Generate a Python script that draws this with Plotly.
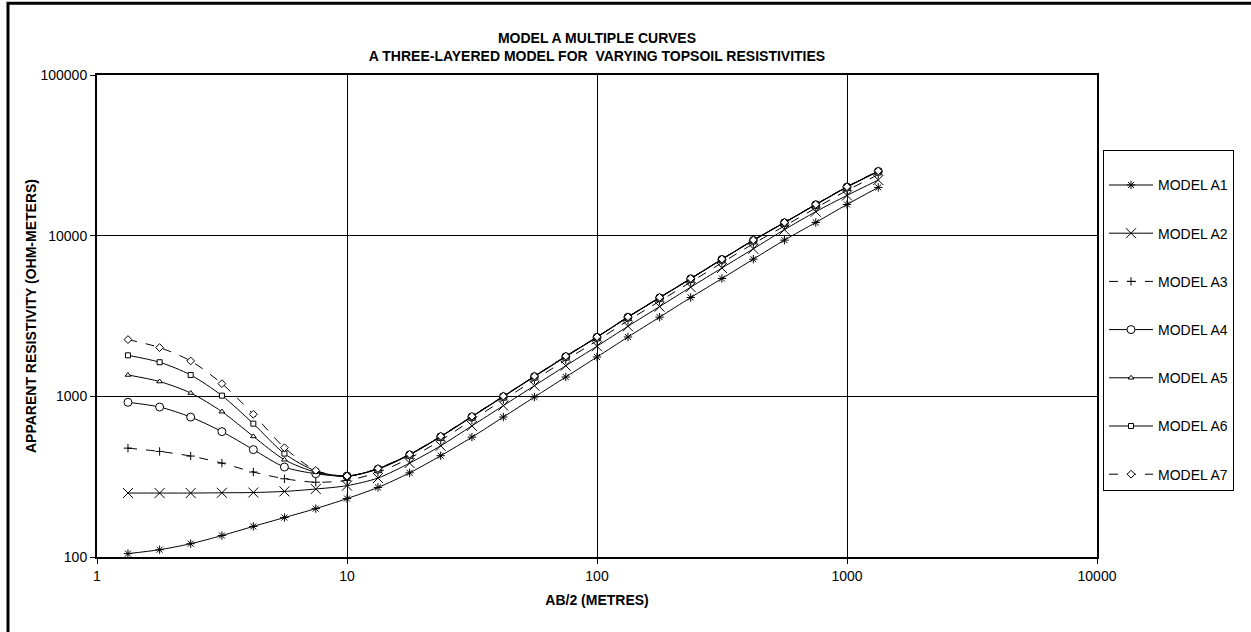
import plotly.graph_objects as go

ab2 = [1.33, 1.78, 2.37, 3.16, 4.22, 5.62, 7.5, 10, 13.3, 17.8, 23.7, 31.6, 42.2,
       56.2, 75, 100, 133, 178, 237, 316, 422, 562, 750, 1000, 1334]

model_a1 = [105, 111, 121, 136, 155, 176, 200, 231, 271, 334, 427, 557, 743, 990,
            1319, 1757, 2340, 3110, 4120, 5410, 7140, 9380, 12080, 15640, 19970]
model_a2 = [250, 250, 250, 251, 252, 256, 265, 278, 310, 384, 492, 655, 875, 1165,
            1550, 2050, 2730, 3620, 4780, 6290, 8280, 10900, 14100, 17800, 22200]
model_a3 = [476, 454, 425, 384, 338, 307, 292, 300, 336, 412, 532, 712, 950, 1265,
            1685, 2220, 2960, 3910, 5140, 6780, 8910, 11480, 14860, 19130, 23960]
model_a4 = [918, 858, 743, 603, 466, 363, 330, 319, 352, 432, 560, 745, 995, 1325,
            1765, 2330, 3105, 4100, 5385, 7110, 9340, 12030, 15570, 20050, 25100]
model_a5 = [1358, 1236, 1049, 803, 563, 403, 337, 318, 354, 434, 562, 748, 998, 1330,
            1770, 2335, 3112, 4110, 5400, 7125, 9360, 12055, 15610, 20100, 25160]
model_a6 = [1800, 1630, 1358, 1010, 676, 440, 343, 318, 355, 435, 563, 750, 1000, 1333,
            1775, 2340, 3120, 4120, 5410, 7140, 9380, 12080, 15640, 20140, 25220]
model_a7 = [2255, 2012, 1660, 1199, 773, 479, 346, 319, 356, 436, 565, 752, 1003, 1336,
            1780, 2345, 3125, 4130, 5420, 7150, 9400, 12100, 15670, 20180, 25300]

names = ["MODEL A1", "MODEL A2", "MODEL A3", "MODEL A4", "MODEL A5", "MODEL A6", "MODEL A7"]
series = [model_a1, model_a2, model_a3, model_a4, model_a5, model_a6, model_a7]

x_ticks = [1, 10, 100, 1000, 10000]
x_tick_labels = ["1", "10", "100", "1000", "10000"]
y_ticks = [100, 1000, 10000, 100000]
y_tick_labels = ["100", "1000", "10000", "100000"]

styles = [
    dict(symbol="asterisk-open", size=7, color="black", dash="solid"),
    dict(symbol="x-thin-open", size=10, color="black", dash="solid"),
    dict(symbol="cross-thin-open", size=6, color="black", dash="dash"),
    dict(symbol="circle", size=8, color="white", dash="solid"),
    dict(symbol="triangle-up", size=5, color="white", dash="solid"),
    dict(symbol="square", size=5, color="white", dash="solid"),
    dict(symbol="diamond", size=6, color="white", dash="dash"),
]

fig = go.Figure()
for i, (nm, ys, st) in enumerate(zip(names, series, styles)):
    fig.add_trace(go.Scatter(
        x=ab2, y=ys, name=nm, mode="lines+markers",
        legendgroup=nm,
        line=dict(color="black", width=1, dash=st["dash"], shape="spline", smoothing=0.8),
        marker=dict(symbol=st["symbol"], size=st["size"], color=st["color"],
                    line=dict(color="black", width=1)),
    ))

FONT = "Liberation Sans, Arial, sans-serif"

fig.update_layout(
    width=1251, height=632,
    margin=dict(l=97, r=154, t=75, b=75),
    paper_bgcolor="white", plot_bgcolor="white",
    font=dict(family=FONT, color="black", size=14),
    title=dict(
        text="<b>MODEL A MULTIPLE CURVES</b><br><b>A THREE-LAYERED MODEL FOR \u00a0VARYING TOPSOIL RESISTIVITIES</b>",
        x=0.5, xref="paper", xanchor="center",
        y=1 - 43 / 632, yref="container", yanchor="middle",
        font=dict(family=FONT, size=14, color="black"),
    ),
    showlegend=True,
    legend=dict(
        x=1.006, xanchor="left", y=0.844, yanchor="top",
        bordercolor="black", borderwidth=1, bgcolor="white",
        font=dict(family=FONT, size=14, color="black"),
        tracegroupgap=27, traceorder="grouped",
        itemwidth=44,
        title=dict(text=" ", font=dict(size=14)),
    ),
    xaxis=dict(
        type="log", range=[0, 4],
        tickmode="array", tickvals=x_ticks, ticktext=x_tick_labels,
        showgrid=True, gridcolor="black", gridwidth=1,
        showline=True, linecolor="black", linewidth=2, mirror=True,
        ticks="outside", ticklen=5, tickcolor="black",
        zeroline=False,
        tickfont=dict(family=FONT, size=14, color="black"),
        title=dict(text="<b>AB/2 (METRES)</b>", standoff=12,
                   font=dict(family=FONT, size=14, color="black")),
    ),
    yaxis=dict(
        type="log", range=[2, 5],
        tickmode="array", tickvals=y_ticks, ticktext=y_tick_labels,
        showgrid=True, gridcolor="black", gridwidth=1,
        showline=True, linecolor="black", linewidth=2, mirror=True,
        ticks="outside", ticklen=5, tickcolor="black",
        zeroline=False,
        tickfont=dict(family=FONT, size=14, color="black"),
        title=dict(text="<b>APPARENT RESISTIVITY (OHM-METERS)</b>", standoff=1,
                   font=dict(family=FONT, size=14, color="black")),
    ),
    shapes=[dict(type="rect", xref="paper", yref="paper",
                 x0=-0.089, x1=1.17, y0=-0.18, y1=1.149,
                 line=dict(color="black", width=3), fillcolor="rgba(0,0,0,0)", layer="above")],
)

fig.write_html("out.html")
